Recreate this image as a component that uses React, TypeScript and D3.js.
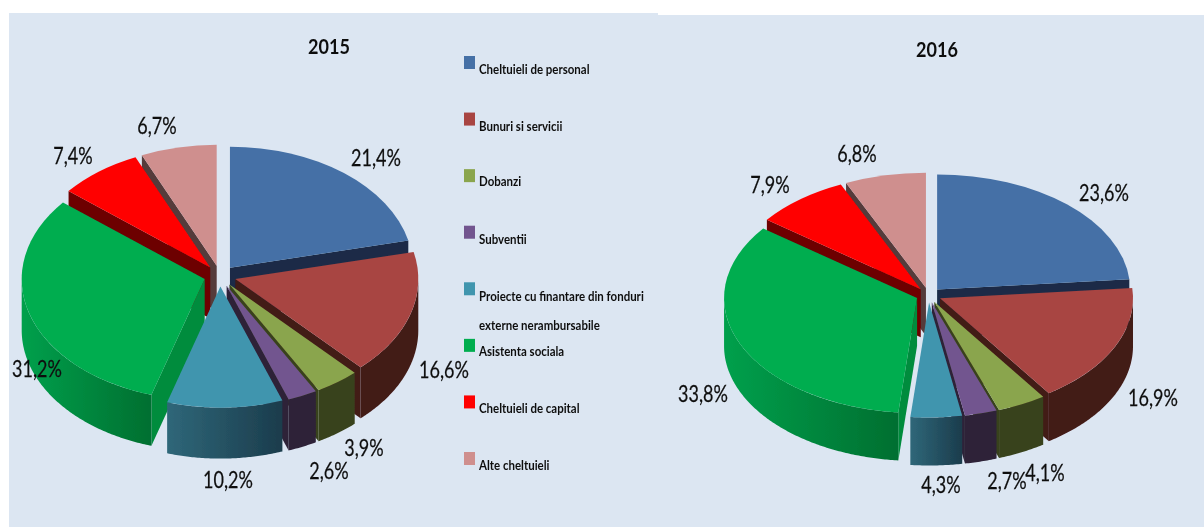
import React from 'react';
import * as d3 from 'd3';

const categories = ['Cheltuieli de personal', 'Bunuri si servicii', 'Dobanzi', 'Subventii', 'Proiecte cu finantare din fonduri|externe nerambursabile', 'Asistenta sociala', 'Cheltuieli de capital', 'Alte cheltuieli'];
const values2015 = [21.4, 16.6, 3.9, 2.6, 10.2, 31.2, 7.4, 6.7];
const values2016 = [23.6, 16.9, 4.1, 2.7, 4.3, 33.8, 7.9, 6.8];

const topColors = ['#4470a6', '#a84442', '#8aa54d', '#72558f', '#4195ae', '#00ad50', '#ff0000', '#cf8f8e'];
const cutColors = ['#1a2c47', '#431a17', '#39421c', '#2d2138', '#1f4757', '#008c3e', '#6d0000', '#553a3a'];
const sideLeft = ['#1a2c47', '#431a17', '#39421c', '#2d2138', '#2f6779', '#00a04c', '#6d0000', '#553a3a'];
const sideRight = ['#1a2c47', '#431a17', '#39421c', '#2d2138', '#1b3c4c', '#006f30', '#6d0000', '#553a3a'];
const paintOrder = [0, 7, 6, 5, 1, 2, 3, 4];

const legendYs = d3.scaleLinear().domain([0, 7]).range([56, 452]);

interface PieSpec { id: string; title: string; values: number[]; cx: number; cy: number; rx: number; ry: number; depth: number; explode: number; titleX: number; titleY: number; labels: [number, number][]; }

const pies: PieSpec[] = [
  { id: 'a', title: '2015', values: values2015, cx: 220, cy: 276, rx: 183, ry: 121, depth: 51, explode: 16, titleX: 329, titleY: 54,
    labels: [[376, 166], [444, 378], [364, 456], [329, 479], [228, 488], [37, 377], [73, 164], [157, 134]] },
  { id: 'b', title: '2016', values: values2016, cx: 928.6, cy: 295, rx: 193, ry: 115, depth: 48, explode: 12.6, titleX: 937, titleY: 57,
    labels: [[1104, 201], [1153, 406], [1045, 481], [1007, 489], [941, 493], [703, 402], [770, 193], [857, 162]] },
];

function Pie({ spec }: { spec: PieSpec }) {
  const k = spec.ry / spec.rx;
  const arcs = d3.pie<number>().sort(null)(spec.values);
  const topArc = d3.arc<d3.PieArcDatum<number>>().innerRadius(0).outerRadius(spec.rx);
  const line = d3.line();
  return (
    <g>
      {paintOrder.map((i) => {
        const a = arcs[i];
        const mid = (a.startAngle + a.endAngle) / 2;
        const ox = spec.cx + spec.explode * Math.sin(mid);
        const oy = spec.cy - spec.explode * Math.cos(mid) * k;
        const pt = (ang: number, dz = 0): [number, number] => [ox + spec.rx * Math.sin(ang), oy - spec.ry * Math.cos(ang) + dz];
        const cut = (ang: number) => line([[ox, oy], pt(ang), pt(ang, spec.depth), [ox, oy + spec.depth]]) + 'Z';
        const from = Math.max(a.startAngle, Math.PI / 2);
        const to = Math.min(a.endAngle, Math.PI * 1.5);
        let wall: string | null = null;
        let xs: [number, number] = [0, 0];
        if (to > from) {
          const angs = d3.range(from, to, 0.01).concat([to]);
          const poly = angs.map((t) => pt(t)).concat(angs.slice().reverse().map((t) => pt(t, spec.depth)));
          wall = line(poly) + 'Z';
          xs = [pt(from)[0], pt(to)[0]];
        }
        const gid = `side-${spec.id}-${i}`;
        const x1 = Math.min(xs[0], xs[1]);
        const x2 = Math.max(xs[0], xs[1]);
        return (
          <g key={i}>
            <defs>
              <linearGradient id={gid} gradientUnits="userSpaceOnUse" x1={x1} x2={x2} y1={0} y2={0}>
                <stop offset="0" stopColor={sideLeft[i]} />
                <stop offset="1" stopColor={sideRight[i]} />
              </linearGradient>
            </defs>
            {Math.sin(a.endAngle) > 0 && <path d={cut(a.endAngle)} fill={cutColors[i]} />}
            {Math.sin(a.startAngle) < 0 && <path d={cut(a.startAngle)} fill={cutColors[i]} />}
            {wall && <path d={wall} fill={`url(#${gid})`} />}
            <path d={topArc(a) as string} transform={`translate(${ox},${oy}) scale(1,${k})`} fill={topColors[i]} />
          </g>
        );
      })}
      {spec.values.map((v, i) => (
        <text key={i} transform={`translate(${spec.labels[i][0]},${spec.labels[i][1]}) scale(0.8,1)`} textAnchor="middle" fontFamily="Lato" fontSize={22.5} fill="#111" stroke="#111" strokeWidth={0.25}>
          {v.toFixed(1).replace('.', ',') + '%'}
        </text>
      ))}
      <text transform={`translate(${spec.titleX},${spec.titleY}) scale(0.88,1)`} textAnchor="middle" fontFamily="Lato" fontWeight={700} fontSize={20.5} fill="#111">
        {spec.title}
      </text>
    </g>
  );
}

const legendBaselineOffset = [18, 18, 17, 18, 19, 17, 18, 18];

export default function App() {
  return (
    <svg width={1204} height={527} style={{ position: 'absolute', left: 0, top: 0, background: '#fff' }}>
      <defs>
        <filter id="soft" x="-5%" y="-5%" width="110%" height="110%"><feGaussianBlur stdDeviation="0.45" /></filter>
      </defs>
      <rect x={9} y={13} width={649} height={514} fill="#dce6f2" />
      <rect x={657} y={15} width={547} height={512} fill="#dce6f2" />
      <g filter="url(#soft)">
        {pies.map((p) => <Pie key={p.id} spec={p} />)}
        {categories.map((c, i) => {
          const y = legendYs(i);
          const parts = c.split('|');
          return (
            <g key={c}>
              <rect x={464} y={y} width={11} height={13} fill={topColors[i]} />
              {parts.map((t, j) => (
                <text key={j} transform={`translate(479,${y + legendBaselineOffset[i] + j * 29}) scale(0.82,1)`} fontFamily="Lato" fontWeight={700} fontSize={14} fill="#111">{t}</text>
              ))}
            </g>
          );
        })}
      </g>
    </svg>
  );
}
